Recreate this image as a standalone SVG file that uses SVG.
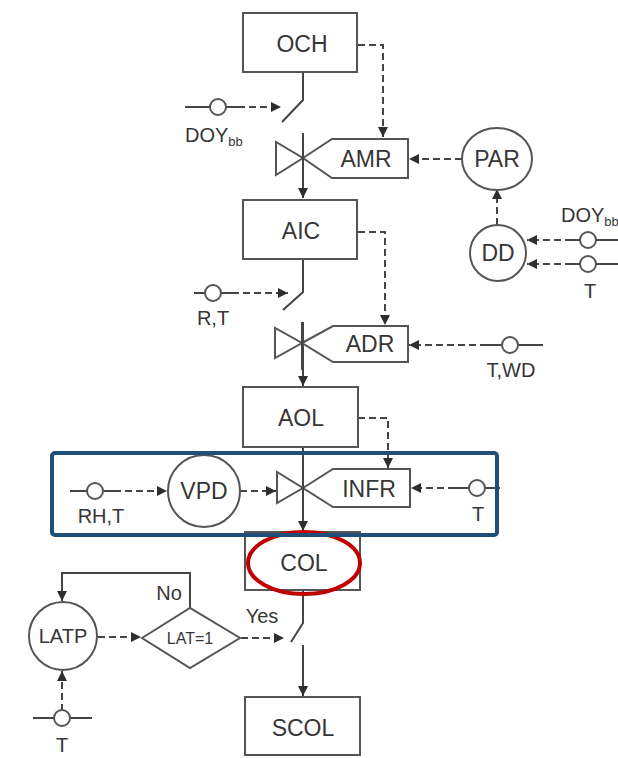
<svg xmlns="http://www.w3.org/2000/svg" width="618" height="758" viewBox="0 0 618 758">
<defs>
<marker id="ah" viewBox="0 0 10 10" refX="10" refY="5" markerWidth="11" markerHeight="10" markerUnits="userSpaceOnUse" orient="auto"><path d="M0,0 L10,5 L0,10 z" fill="#2e2e2e"/></marker>
</defs>
<style>
.ln{fill:none;stroke:#444;stroke-width:2}
.ds{fill:none;stroke:#444;stroke-width:2;stroke-dasharray:7 4}
.bx{fill:#fff;stroke:#555;stroke-width:2}
.t{font-family:"Liberation Sans",Arial,sans-serif;fill:#363636;font-size:23px;text-anchor:middle}
.s{font-family:"Liberation Sans",Arial,sans-serif;fill:#363636;font-size:20px;text-anchor:middle}
.sub{font-size:13px}
</style>
<rect width="618" height="758" fill="#fff"/>
<g id="connectors">
<polyline class="ln" points="303,72 303,100 282,122"/>
<line class="ln" x1="303" y1="133" x2="303" y2="198" marker-end="url(#ah)"/>
<polyline class="ln" points="303,260 303,292 283,310"/>
<line class="ln" x1="303" y1="322" x2="303" y2="386" marker-end="url(#ah)"/>
<line class="ln" x1="303" y1="447" x2="303" y2="531" marker-end="url(#ah)"/>
<polyline class="ln" points="303,590 303,623 291,642"/>
<line class="ln" x1="303" y1="645" x2="303" y2="696" marker-end="url(#ah)"/>
<polyline class="ds" points="358,45 383,45 383,137" marker-end="url(#ah)"/>
<polyline class="ds" points="358,232 385,232 385,325" marker-end="url(#ah)"/>
<polyline class="ds" points="358,418 388,418 388,468" marker-end="url(#ah)"/>
<line class="ln" x1="185" y1="107" x2="238" y2="107"/>
<line class="ds" x1="238" y1="107" x2="281" y2="107" marker-end="url(#ah)"/>
<line class="ln" x1="194" y1="293" x2="232" y2="293"/>
<line class="ds" x1="232" y1="293" x2="288" y2="293" marker-end="url(#ah)"/>
<line class="ds" x1="462" y1="159" x2="409" y2="159" marker-end="url(#ah)"/>
<line class="ds" x1="497" y1="225" x2="497" y2="189" marker-end="url(#ah)"/>
<line class="ln" x1="572" y1="240" x2="618" y2="240"/>
<line class="ds" x1="572" y1="240" x2="527" y2="240" marker-end="url(#ah)"/>
<line class="ln" x1="572" y1="264" x2="618" y2="264"/>
<line class="ds" x1="572" y1="264" x2="527" y2="264" marker-end="url(#ah)"/>
<line class="ln" x1="487" y1="345" x2="543" y2="345"/>
<line class="ds" x1="487" y1="345" x2="409" y2="345" marker-end="url(#ah)"/>
<line class="ln" x1="70" y1="491" x2="114" y2="491"/>
<line class="ds" x1="114" y1="491" x2="167" y2="491" marker-end="url(#ah)"/>
<line class="ds" x1="240" y1="491" x2="276" y2="491" marker-end="url(#ah)"/>
<line class="ln" x1="455" y1="488" x2="500" y2="488"/>
<line class="ds" x1="455" y1="488" x2="411" y2="488" marker-end="url(#ah)"/>
<polyline class="ln" points="190,608 190,573 62,573 62,601" marker-end="url(#ah)"/>
<line class="ds" x1="98" y1="637" x2="141" y2="637" marker-end="url(#ah)"/>
<line class="ds" x1="241" y1="638" x2="284" y2="638" marker-end="url(#ah)"/>
<line class="ln" x1="33" y1="718" x2="92" y2="718"/>
<line class="ds" x1="62" y1="711" x2="62" y2="671" marker-end="url(#ah)"/>
</g>
<g id="OCH"><rect class="bx" x="243" y="13" width="114" height="59"/><text class="t" x="302" y="52">OCH</text></g>
<g id="AIC"><rect class="bx" x="243" y="200" width="114" height="59"/><text class="t" x="301" y="239">AIC</text></g>
<g id="AOL"><rect class="bx" x="243" y="387" width="115" height="60"/><text class="t" x="301" y="426">AOL</text></g>
<g id="COL"><rect class="bx" x="245" y="532" width="115" height="58"/><text class="t" x="304" y="571">COL</text></g>
<g id="SCOL"><rect class="bx" x="245" y="697" width="115" height="58"/><text class="t" x="303" y="736">SCOL</text></g>
<g id="AMR">
<polygon class="bx" points="276,142 276,175 303,158"/>
<polygon class="bx" points="303,158 332,139 408,139 408,178 332,178"/>
<text class="t" x="366" y="167">AMR</text>
</g>
<g id="ADR">
<polygon class="bx" points="275,328 275,358 302,343"/>
<polygon class="bx" points="302,343 333,326 408,326 408,362 333,362"/>
<text class="t" x="370" y="352">ADR</text>
</g>
<g id="INFR">
<polygon class="bx" points="277,472 277,503 303,488"/>
<polygon class="bx" points="303,488 333,469 410,469 410,507 333,507"/>
<text class="t" x="369" y="497">INFR</text>
</g>
<line class="ln" x1="303" y1="133" x2="303" y2="185"/>
<line class="ln" x1="302" y1="322" x2="302" y2="370"/>
<line class="ln" x1="303" y1="460" x2="303" y2="520"/>
<g id="PAR"><ellipse class="bx" cx="497" cy="159" rx="35" ry="31"/><text class="t" x="497" y="167">PAR</text></g>
<g id="DD"><circle class="bx" cx="498" cy="253" r="28"/><text class="t" x="498" y="261">DD</text></g>
<g id="VPD"><circle class="bx" cx="204" cy="491" r="36"/><text class="t" x="204" y="499">VPD</text></g>
<g id="LATP"><circle class="bx" cx="63" cy="636" r="34"/><text class="s" x="63" y="643">LATP</text></g>
<g id="LAT1"><polygon class="bx" points="142,638 190,608 240,638 190,668"/><text class="s" x="190" y="644" style="font-size:16px">LAT=1</text></g>
<g id="inputs">
<circle class="bx" cx="218" cy="107" r="8"/>
<text class="s" x="185" y="142" style="text-anchor:start">DOY<tspan class="sub" dy="4">bb</tspan></text>
<circle class="bx" cx="213" cy="293" r="8"/>
<text class="s" x="213" y="325">R,T</text>
<circle class="bx" cx="588" cy="240" r="8"/>
<text class="s" x="561" y="222" style="text-anchor:start">DOY<tspan class="sub" dy="4">bb</tspan></text>
<circle class="bx" cx="588" cy="264" r="8"/>
<text class="s" x="590" y="298">T</text>
<circle class="bx" cx="510" cy="345" r="8"/>
<text class="s" x="511" y="377">T,WD</text>
<circle class="bx" cx="95" cy="491" r="8"/>
<text class="s" x="101" y="523">RH,T</text>
<circle class="bx" cx="477" cy="488" r="8"/>
<text class="s" x="478" y="521">T</text>
<circle class="bx" cx="62" cy="718" r="8"/>
<text class="s" x="62" y="752">T</text>
<text class="s" x="169" y="600">No</text>
<text class="s" x="262" y="623">Yes</text>
</g>
<g id="highlights">
<ellipse cx="304" cy="563" rx="56" ry="31" fill="none" stroke="#c00000" stroke-width="4"/>
<rect x="52" y="453" width="445" height="82" rx="3" fill="none" stroke="#1f4e79" stroke-width="4"/>
</g>
</svg>
